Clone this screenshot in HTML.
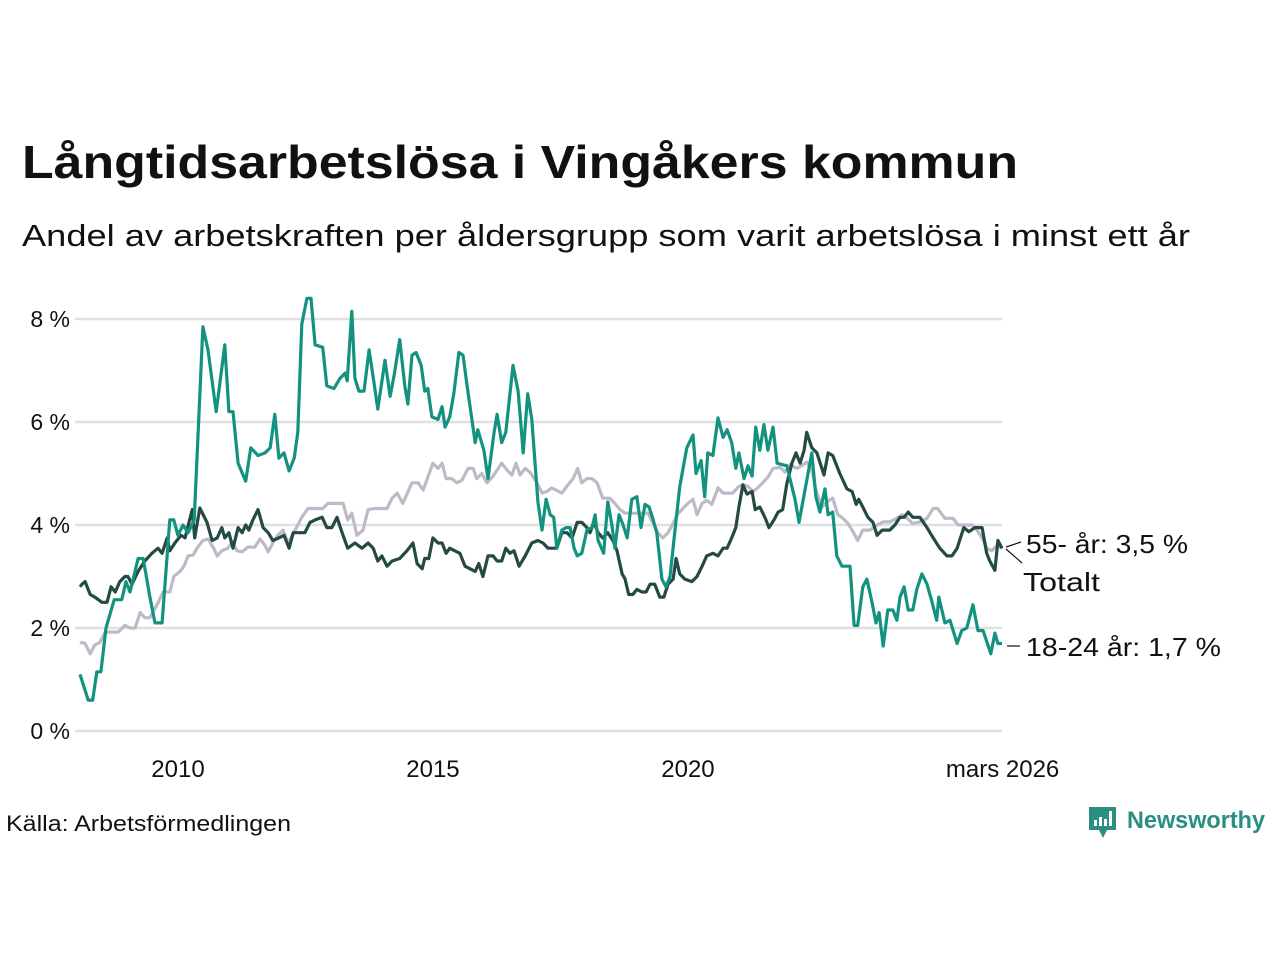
<!DOCTYPE html>
<html><head><meta charset="utf-8"><style>
html,body{margin:0;padding:0;background:#fff;width:1280px;height:960px;overflow:hidden}
svg{display:block;font-family:"Liberation Sans","DejaVu Sans",sans-serif}
</style></head><body>
<svg id="chart" width="1280" height="960" viewBox="0 0 1280 960">
<text x="22" y="178" font-size="46" font-weight="bold" fill="#111" textLength="996" lengthAdjust="spacingAndGlyphs">Långtidsarbetslösa i Vingåkers kommun</text>
<text x="22" y="246" font-size="31" fill="#111" textLength="1168" lengthAdjust="spacingAndGlyphs">Andel av arbetskraften per åldersgrupp som varit arbetslösa i minst ett år</text>
<g id="grid"></g>
<g id="yticks"></g>
<g id="xticks"></g>
<g id="lines"></g>
<g>
<line x1="1006" y1="547" x2="1021" y2="542" stroke="#111" stroke-width="1.2"/>
<line x1="1006" y1="549" x2="1022" y2="563" stroke="#111" stroke-width="1.2"/>
<line x1="1007" y1="646" x2="1020" y2="646" stroke="#111" stroke-width="1.2"/>
<text x="1026" y="553" font-size="26" fill="#111" textLength="162" lengthAdjust="spacingAndGlyphs">55- år: 3,5 %</text>
<text x="1023" y="591" font-size="26" fill="#111" textLength="77" lengthAdjust="spacingAndGlyphs">Totalt</text>
<text x="1026" y="656" font-size="26" fill="#111" textLength="195" lengthAdjust="spacingAndGlyphs">18-24 år: 1,7 %</text>
</g>
<text x="6" y="831" font-size="22" fill="#111" textLength="285" lengthAdjust="spacingAndGlyphs">Källa: Arbetsförmedlingen</text>
<g>
<path d="M1089 807 h27 v23 h-9 l-4 8 l-4 -8 h-10 z" fill="#2a8f80"/>
<rect x="1094" y="820" width="3" height="6" fill="#fff"/>
<rect x="1099" y="817" width="3" height="9" fill="#fff"/>
<rect x="1104" y="819" width="3" height="7" fill="#fff"/>
<rect x="1109" y="811" width="3" height="15" fill="#fff"/>
<text x="1127" y="828" font-size="24" font-weight="bold" fill="#2a8f80" textLength="138" lengthAdjust="spacingAndGlyphs">Newsworthy</text>
</g>
</svg>
<script>
const yTicks=[0,2,4,6,8];
const yTickLabels=["0 %","2 %","4 %","6 %","8 %"];
const xTicks=[2010,2015,2020,2026.17];
const xTickLabels=["2010","2015","2020","mars 2026"];
const teenYears=[2008.00,2008.16,2008.25,2008.33,2008.41,2008.51,2008.67,2008.82,2008.90,2008.98,2009.14,2009.24,2009.37,2009.47,2009.61,2009.76,2009.84,2009.92,2010.02,2010.12,2010.24,2010.41,2010.51,2010.67,2010.84,2010.92,2011.00,2011.10,2011.25,2011.35,2011.49,2011.63,2011.73,2011.82,2011.90,2012.00,2012.10,2012.20,2012.27,2012.35,2012.45,2012.53,2012.61,2012.76,2012.84,2012.98,2013.10,2013.20,2013.24,2013.33,2013.39,2013.47,2013.57,2013.67,2013.76,2013.84,2013.98,2014.08,2014.16,2014.27,2014.37,2014.43,2014.51,2014.59,2014.69,2014.76,2014.82,2014.90,2015.02,2015.10,2015.16,2015.25,2015.33,2015.43,2015.51,2015.59,2015.75,2015.80,2015.92,2016.00,2016.12,2016.18,2016.27,2016.35,2016.49,2016.59,2016.65,2016.69,2016.78,2016.86,2016.98,2017.06,2017.14,2017.22,2017.29,2017.35,2017.45,2017.53,2017.61,2017.69,2017.75,2017.84,2017.94,2018.04,2018.10,2018.16,2018.27,2018.35,2018.43,2018.49,2018.57,2018.65,2018.73,2018.82,2018.92,2019.00,2019.08,2019.16,2019.24,2019.31,2019.41,2019.49,2019.57,2019.76,2019.90,2020.02,2020.08,2020.18,2020.25,2020.31,2020.41,2020.51,2020.61,2020.69,2020.78,2020.86,2020.92,2021.02,2021.10,2021.18,2021.25,2021.33,2021.41,2021.49,2021.59,2021.67,2021.86,2022.02,2022.10,2022.22,2022.35,2022.43,2022.51,2022.61,2022.67,2022.76,2022.84,2022.94,2023.10,2023.18,2023.25,2023.35,2023.43,2023.53,2023.61,2023.67,2023.75,2023.84,2023.94,2024.02,2024.08,2024.16,2024.24,2024.33,2024.41,2024.51,2024.61,2024.71,2024.80,2024.84,2024.96,2025.06,2025.20,2025.29,2025.39,2025.51,2025.61,2025.71,2025.86,2025.94,2026.00,2026.08];
const teenValues=[1.1,0.6,0.6,1.15,1.15,2.0,2.55,2.55,2.9,2.7,3.35,3.35,2.6,2.1,2.1,4.1,4.1,3.8,4.0,3.85,4.1,7.85,7.4,6.2,7.5,6.2,6.2,5.2,4.85,5.5,5.35,5.4,5.5,6.15,5.3,5.4,5.05,5.3,5.8,7.9,8.4,8.4,7.5,7.45,6.7,6.65,6.85,6.95,6.8,8.15,6.85,6.6,6.6,7.4,6.8,6.25,7.2,6.5,6.9,7.6,6.7,6.35,7.3,7.35,7.1,6.6,6.65,6.1,6.05,6.3,5.9,6.1,6.55,7.35,7.3,6.7,5.6,5.85,5.45,4.9,5.8,6.15,5.6,5.8,7.1,6.6,5.9,5.4,6.55,6.05,4.45,3.9,4.5,4.2,4.15,3.55,3.9,3.95,3.95,3.55,3.4,3.45,3.9,3.95,4.2,3.7,3.45,4.45,4.0,3.55,4.2,4.0,3.75,4.5,4.55,3.95,4.4,4.35,4.1,3.85,2.95,2.8,3.0,4.74,5.5,5.75,5.0,5.25,4.55,5.4,5.35,6.08,5.7,5.85,5.6,5.1,5.4,4.9,5.15,4.95,5.9,5.45,5.95,5.45,5.9,5.2,5.15,4.5,4.05,4.7,5.4,4.55,4.25,4.7,4.2,4.25,3.4,3.2,3.2,2.05,2.05,2.8,2.95,2.5,2.1,2.3,1.65,2.35,2.35,2.15,2.6,2.8,2.35,2.35,2.75,3.05,2.85,2.5,2.15,2.6,2.1,2.15,1.7,1.95,2.0,2.45,1.95,1.95,1.5,1.9,1.7,1.7];
const totalYears=[2008.00,2008.04,2008.10,2008.20,2008.29,2008.43,2008.53,2008.61,2008.69,2008.78,2008.88,2008.94,2009.02,2009.14,2009.27,2009.41,2009.53,2009.61,2009.71,2009.76,2009.86,2009.98,2010.06,2010.20,2010.25,2010.35,2010.49,2010.59,2010.69,2010.78,2010.84,2010.92,2011.00,2011.10,2011.18,2011.25,2011.31,2011.39,2011.49,2011.59,2011.69,2011.78,2011.90,2012.00,2012.10,2012.18,2012.41,2012.51,2012.61,2012.75,2012.84,2012.94,2013.04,2013.14,2013.25,2013.39,2013.53,2013.65,2013.75,2013.84,2013.92,2014.02,2014.12,2014.27,2014.41,2014.53,2014.61,2014.71,2014.76,2014.84,2014.92,2015.02,2015.10,2015.18,2015.25,2015.35,2015.45,2015.55,2015.65,2015.75,2015.82,2015.90,2016.00,2016.10,2016.18,2016.27,2016.35,2016.43,2016.51,2016.61,2016.73,2016.86,2016.98,2017.08,2017.18,2017.35,2017.45,2017.55,2017.65,2017.75,2017.84,2017.94,2018.00,2018.08,2018.16,2018.25,2018.35,2018.45,2018.53,2018.63,2018.69,2018.76,2018.84,2018.92,2019.02,2019.10,2019.18,2019.27,2019.37,2019.45,2019.53,2019.63,2019.69,2019.76,2019.86,2020.00,2020.10,2020.20,2020.29,2020.41,2020.51,2020.61,2020.69,2020.78,2020.86,2020.92,2021.00,2021.08,2021.18,2021.24,2021.33,2021.43,2021.51,2021.61,2021.69,2021.78,2021.86,2021.96,2022.04,2022.12,2022.20,2022.25,2022.35,2022.45,2022.59,2022.67,2022.76,2022.90,2023.04,2023.14,2023.22,2023.27,2023.35,2023.45,2023.55,2023.63,2023.73,2023.88,2023.98,2024.08,2024.16,2024.24,2024.33,2024.47,2024.61,2024.73,2024.86,2025.00,2025.10,2025.20,2025.33,2025.43,2025.55,2025.69,2025.78,2025.84,2025.94,2026.00,2026.08];
const totalValues=[2.8,2.85,2.9,2.65,2.6,2.5,2.5,2.8,2.7,2.9,3.0,3.0,2.85,3.1,3.3,3.45,3.55,3.45,3.75,3.5,3.65,3.8,3.75,4.3,3.75,4.33,4.05,3.7,3.75,3.95,3.75,3.85,3.55,3.95,3.85,4.0,3.9,4.1,4.3,3.95,3.85,3.7,3.75,3.8,3.55,3.85,3.85,4.05,4.1,4.15,3.95,3.95,4.15,3.85,3.55,3.65,3.55,3.65,3.55,3.3,3.4,3.2,3.3,3.35,3.5,3.65,3.25,3.15,3.35,3.35,3.75,3.65,3.65,3.45,3.55,3.5,3.45,3.2,3.15,3.1,3.25,3.0,3.4,3.4,3.3,3.3,3.55,3.45,3.5,3.2,3.4,3.65,3.7,3.65,3.55,3.55,3.85,3.85,3.75,4.05,4.05,3.95,3.85,4.05,3.85,3.75,3.85,3.7,3.5,3.05,2.95,2.65,2.65,2.75,2.7,2.7,2.85,2.85,2.6,2.6,2.85,2.95,3.35,3.05,2.95,2.9,3.0,3.2,3.4,3.45,3.4,3.55,3.55,3.75,3.95,4.35,4.78,4.6,4.65,4.3,4.35,4.15,3.95,4.1,4.25,4.3,4.8,5.2,5.4,5.2,5.45,5.8,5.5,5.4,4.97,5.4,5.35,5.0,4.7,4.65,4.4,4.5,4.35,4.15,4.05,3.8,3.9,3.9,4.0,4.15,4.15,4.25,4.15,4.15,3.95,3.75,3.55,3.4,3.4,3.55,3.95,3.87,3.95,3.95,3.45,3.3,3.12,3.7,3.55];
const seniorYears=[2008.00,2008.04,2008.10,2008.20,2008.29,2008.39,2008.49,2008.75,2008.88,2008.98,2009.08,2009.18,2009.27,2009.37,2009.51,2009.63,2009.76,2009.84,2009.96,2010.04,2010.12,2010.22,2010.31,2010.41,2010.51,2010.61,2010.69,2010.78,2010.90,2010.98,2011.08,2011.18,2011.29,2011.43,2011.53,2011.63,2011.69,2011.78,2011.88,2011.98,2012.08,2012.22,2012.35,2012.47,2012.76,2012.86,2013.16,2013.25,2013.33,2013.43,2013.55,2013.65,2013.78,2014.02,2014.12,2014.22,2014.33,2014.51,2014.63,2014.73,2014.92,2015.02,2015.10,2015.18,2015.29,2015.39,2015.49,2015.61,2015.71,2015.78,2015.88,2015.98,2016.10,2016.27,2016.37,2016.47,2016.55,2016.63,2016.73,2016.82,2016.96,2017.06,2017.16,2017.25,2017.45,2017.57,2017.67,2017.76,2017.84,2017.94,2018.04,2018.14,2018.25,2018.39,2018.49,2018.59,2018.69,2019.14,2019.24,2019.33,2019.43,2019.53,2019.63,2019.71,2019.82,2019.92,2020.02,2020.10,2020.20,2020.29,2020.39,2020.51,2020.61,2020.80,2020.92,2021.00,2021.10,2021.20,2021.29,2021.39,2021.49,2021.59,2021.73,2021.82,2021.92,2022.06,2022.18,2022.25,2022.35,2022.43,2022.55,2022.65,2022.76,2022.86,2022.96,2023.06,2023.16,2023.25,2023.35,2023.49,2023.63,2023.75,2023.88,2024.02,2024.12,2024.22,2024.33,2024.47,2024.61,2024.73,2024.82,2024.96,2025.12,2025.22,2025.49,2025.59,2025.69,2025.78,2025.88,2025.98,2026.08];
const seniorValues=[1.7,1.72,1.7,1.5,1.67,1.72,1.92,1.92,2.05,2.0,2.0,2.3,2.2,2.2,2.45,2.7,2.7,3.0,3.1,3.2,3.4,3.42,3.57,3.7,3.73,3.57,3.4,3.5,3.55,3.67,3.5,3.48,3.57,3.57,3.73,3.6,3.48,3.65,3.8,3.9,3.65,3.9,4.15,4.32,4.32,4.42,4.42,4.1,4.23,3.8,3.9,4.3,4.32,4.32,4.52,4.62,4.42,4.82,4.82,4.68,5.2,5.1,5.2,4.9,4.9,4.82,4.87,5.1,5.1,4.9,5.0,4.82,4.95,5.2,5.07,4.97,5.2,4.97,5.1,5.03,4.82,4.62,4.65,4.72,4.62,4.78,4.9,5.1,4.82,4.9,4.9,4.82,4.52,4.52,4.42,4.3,4.23,4.23,4.03,3.85,3.75,3.85,4.03,4.2,4.32,4.42,4.5,4.2,4.42,4.48,4.4,4.72,4.62,4.62,4.75,4.78,4.75,4.65,4.72,4.82,4.93,5.1,5.12,5.03,5.17,5.1,5.17,5.22,5.07,4.68,4.35,4.45,4.52,4.2,4.13,4.03,3.87,3.7,3.9,3.9,4.0,4.06,4.06,4.13,4.2,4.13,4.03,4.06,4.13,4.32,4.32,4.13,4.13,4.0,4.0,3.9,3.75,3.55,3.5,3.6,3.55];

const X0=80,X1=1002,D0=2008,D1=2026.08,Y0=731,PXPER=51.5;
function xs(t){return X0+(t-D0)/(D1-D0)*(X1-X0);}
function ys(v){return Y0-v*PXPER;}
const NS="http://www.w3.org/2000/svg";
const grid=document.getElementById('grid'),yt=document.getElementById('yticks'),xt=document.getElementById('xticks'),lines=document.getElementById('lines');
yTicks.forEach((v,i)=>{
  const l=document.createElementNS(NS,'line');
  l.setAttribute('x1',75);l.setAttribute('x2',1002);l.setAttribute('y1',ys(v));l.setAttribute('y2',ys(v));
  l.setAttribute('stroke','#e0dfe4');l.setAttribute('stroke-width',2.5);
  
  
  grid.appendChild(l);
  const t=document.createElementNS(NS,'text');
  t.setAttribute('x',70);t.setAttribute('y',ys(v)+8);t.setAttribute('text-anchor','end');t.setAttribute('font-size','23');t.setAttribute('fill','#111');
  t.textContent=yTickLabels[i];
  
  
  yt.appendChild(t);
});
xTicks.forEach((v,i)=>{
  const t=document.createElementNS(NS,'text');
  t.setAttribute('x',xs(v)-4);t.setAttribute('y',777);t.setAttribute('text-anchor','middle');t.setAttribute('font-size','24');t.setAttribute('fill','#111');
  t.textContent=xTickLabels[i];
  
  
  xt.appendChild(t);
});
function draw(years,vals,color,name){
  const p=document.createElementNS(NS,'path');
  p.setAttribute('d',years.map((t,i)=>(i?'L':'M')+xs(t).toFixed(1)+' '+ys(vals[i]).toFixed(1)).join(' '));
  p.setAttribute('fill','none');p.setAttribute('stroke',color);p.setAttribute('stroke-width',3.2);p.setAttribute('stroke-linejoin','round');
  
  
  lines.appendChild(p);
}
draw(seniorYears,seniorValues,'#bdbac8','line-55-plus');
draw(totalYears,totalValues,'#234a43','line-totalt');
draw(teenYears,teenValues,'#13937f','line-18-24');
</script>
</body></html>
